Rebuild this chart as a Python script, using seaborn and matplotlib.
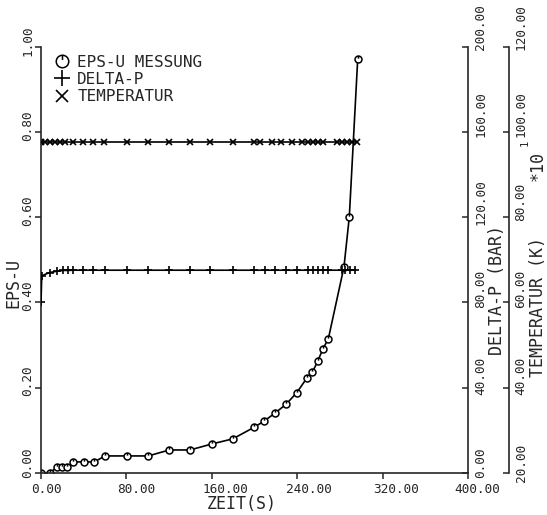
import numpy as np
import pandas as pd
import matplotlib
matplotlib.use("Agg")
import matplotlib.pyplot as plt
import matplotlib.transforms as mtransforms
from matplotlib.path import Path
from matplotlib.lines import Line2D
from matplotlib.ticker import FixedLocator, FormatStrFormatter
import seaborn as sns

# --- measured strain EPS-U over time ---
eps_time = [0, 8.4, 14.7, 19.4, 24.1, 30.3, 40.3, 49.9, 60.0, 80.2, 100.5,
            120.2, 139.6, 159.9, 179.6, 199.5, 209.2, 219.5, 229.5, 239.5,
            248.9, 254.2, 259.2, 263.9, 269.2, 283.8, 288.8, 296.7]
eps_u = [0.000, 0.001, 0.013, 0.013, 0.013, 0.026, 0.026, 0.026, 0.040,
         0.040, 0.040, 0.054, 0.054, 0.068, 0.080, 0.107, 0.122, 0.141,
         0.161, 0.188, 0.222, 0.236, 0.262, 0.290, 0.315, 0.483, 0.600,
         0.971]

# --- pressure difference DELTA-P (bar) ---
dp_time = [0, 0.7, 8.0, 14.7, 20.8, 25.5, 30.3, 39.7, 49.1, 60.0, 80.3,
           100.5, 120.2, 139.6, 158.3, 180.1, 199.8, 209.8, 219.2, 229.2,
           239.5, 250.4, 255.1, 259.8, 264.5, 269.2, 281.7, 284.8, 289.5,
           294.2]
delta_p = [80.0, 92.5, 94.0, 94.6, 95.0, 95.0, 95.1, 95.1, 95.1, 95.1, 95.1,
           95.1, 95.1, 95.1, 95.1, 95.1, 95.1, 95.1, 95.1, 95.1, 95.1, 95.1,
           95.1, 95.1, 95.1, 95.1, 95.1, 95.1, 95.1, 95.1]

# --- temperature (K, in units of 10^1) ---
temp_time = [0, 3.7, 8.4, 13.0, 17.8, 22.5, 30.3, 39.7, 49.1, 59.3, 80.3,
             100.5, 120.2, 139.6, 158.3, 180.1, 199.8, 205.2, 216.1, 224.8,
             234.9, 244.8, 249.8, 255.1, 259.8, 264.5, 277.0, 281.7, 286.4,
             291.1, 295.8]
temperature = [97.5] * len(temp_time)

x_ticks = [0, 80, 160, 240, 320, 400]
eps_ticks = [0.0, 0.2, 0.4, 0.6, 0.8, 1.0]
dp_ticks = [0, 40, 80, 120, 160, 200]
temp_ticks = [20, 40, 60, 80, 100, 120]

sns.set_style("ticks")
plt.rcParams["font.family"] = ["DejaVu Sans Mono", "DejaVu Sans"]
plt.rcParams["axes.linewidth"] = 1.2

DPI = 100
fig = plt.figure(figsize=(5.47, 5.15), dpi=DPI)
ax = fig.add_axes([41 / 547, 42 / 515, 427 / 547, 426.5 / 515])
ax2 = ax.twinx()
ax3 = ax.twinx()

# circle marker with a short vertical stroke
circ = Path.unit_circle()
stroke = Path([(0, 0.25), (0, 1.0)], [Path.MOVETO, Path.LINETO])
circ_marker = Path.make_compound_path(circ, stroke)

df_eps = pd.DataFrame({"t": eps_time, "eps": eps_u})
df_dp = pd.DataFrame({"t": dp_time, "dp": delta_p})
df_temp = pd.DataFrame({"t": temp_time, "T": temperature})

sns.lineplot(data=df_eps, x="t", y="eps", ax=ax, color="black", lw=1.2,
             marker=circ_marker, ms=5, mfc="white", mec="black", mew=1.1,
             estimator=None, sort=False, legend=False)
sns.lineplot(data=df_dp, x="t", y="dp", ax=ax2, color="black", lw=1.2,
             marker="+", ms=5.5, mec="black", mew=1.2,
             estimator=None, sort=False, legend=False)
sns.lineplot(data=df_temp, x="t", y="T", ax=ax3, color="black", lw=1.2,
             marker="x", ms=4.5, mec="black", mew=1.2,
             estimator=None, sort=False, legend=False)

ax.set_xlim(0, 400)
ax.set_ylim(0, 1.0)
ax2.set_ylim(0, 200)
ax3.set_ylim(20, 120)

# spines
ax.spines["top"].set_visible(False)
ax.spines["right"].set_visible(False)
for s in ["top", "left", "bottom"]:
    ax2.spines[s].set_visible(False)
    ax3.spines[s].set_visible(False)
ax3.spines["right"].set_position(("axes", (509 - 41) / 427))

tick_fs = 9.2
ax.xaxis.set_major_locator(FixedLocator(x_ticks))
ax.xaxis.set_major_formatter(FormatStrFormatter("%.2f"))
ax.yaxis.set_major_locator(FixedLocator(eps_ticks))
ax.yaxis.set_major_formatter(FormatStrFormatter("%.2f"))
ax2.yaxis.set_major_locator(FixedLocator(dp_ticks))
ax2.yaxis.set_major_formatter(FormatStrFormatter("%.2f"))
ax3.yaxis.set_major_locator(FixedLocator(temp_ticks))
ax3.yaxis.set_major_formatter(FormatStrFormatter("%.2f"))

ax.tick_params(axis="x", direction="out", length=4, width=1.1, pad=3.5,
               labelsize=tick_fs)
ax.tick_params(axis="y", direction="out", length=4, width=1.1, pad=1.0,
               labelsize=tick_fs, labelrotation=90)
ax2.tick_params(axis="y", direction="in", length=4, width=1.1, pad=4.5,
                labelsize=tick_fs, labelrotation=90)
ax3.tick_params(axis="y", direction="in", length=4, width=1.1, pad=4.0,
                labelsize=tick_fs, labelrotation=90)


def shift(labels, dxs, dys, **kw):
    for t, dx, dy in zip(labels, dxs, dys):
        off = mtransforms.ScaledTranslation(dx / DPI, dy / DPI,
                                            fig.dpi_scale_trans)
        t.set_transform(t.get_transform() + off)
        t.set(**kw)


right_dy = [10 + 9 * i / 5 for i in range(6)]
shift(ax.get_xticklabels(), [5, 10, 14, 12, 13, 9], [0] * 6)
shift(ax.get_yticklabels(), [0] * 6, [10, 7, 7, 6, 6, 6],
      va="center", ha="right")
shift(ax2.get_yticklabels(), [0] * 6, right_dy, va="center", ha="left")
shift(ax3.get_yticklabels(), [0] * 6, right_dy, va="center", ha="left")

# axis titles
lab_fs = 12
ax.set_xlabel("ZEIT(S)", fontsize=lab_fs)
ax.xaxis.set_label_coords((242 - 41) / 427, -(495 - 473) / 426.5)
ax.xaxis.label.set_va("top")

ax.set_ylabel("EPS-U", fontsize=lab_fs)
ax.yaxis.set_label_coords((13 - 41) / 427, (473 - 283) / 426.5)
ax.yaxis.label.set_va("center")

ax2.set_ylabel("DELTA-P (BAR)", fontsize=lab_fs)
ax2.yaxis.set_label_coords((497 - 41) / 427, (473 - 290) / 426.5)
ax2.yaxis.label.set_va("center")

ax3.set_ylabel("TEMPERATUR (K)", fontsize=lab_fs)
ax3.yaxis.set_label_coords((538 - 41) / 427, (473 - 307) / 426.5)
ax3.yaxis.label.set_va("center")

# scale factor of the temperature axis
ax3.text((538 - 41) / 427, (473 - 166) / 426.5, "*10", transform=ax3.transAxes,
         rotation=90, ha="center", va="center", fontsize=lab_fs)
ax3.text((525 - 41) / 427, (473 - 143) / 426.5, "1", transform=ax3.transAxes,
         rotation=90, ha="center", va="center", fontsize=7.5)

# legend
handles = [
    Line2D([], [], ls="none", marker=circ_marker, ms=9, mfc="white",
           mec="black", mew=1.1, color="black"),
    Line2D([], [], ls="none", marker="+", ms=11, mew=1.2, color="black"),
    Line2D([], [], ls="none", marker="x", ms=8.5, mew=1.2, color="black"),
]
labels = ["EPS-U MESSUNG", "DELTA-P", "TEMPERATUR"]
ax.legend(handles, labels, loc="upper left",
          bbox_to_anchor=((54 - 41) / 427, (473 - 55) / 426.5),
          frameon=False, fontsize=11.5, handlelength=1.0,
          handletextpad=0.45, labelspacing=0.13, borderpad=0,
          borderaxespad=0)

fig.savefig("out.png", dpi=DPI)
